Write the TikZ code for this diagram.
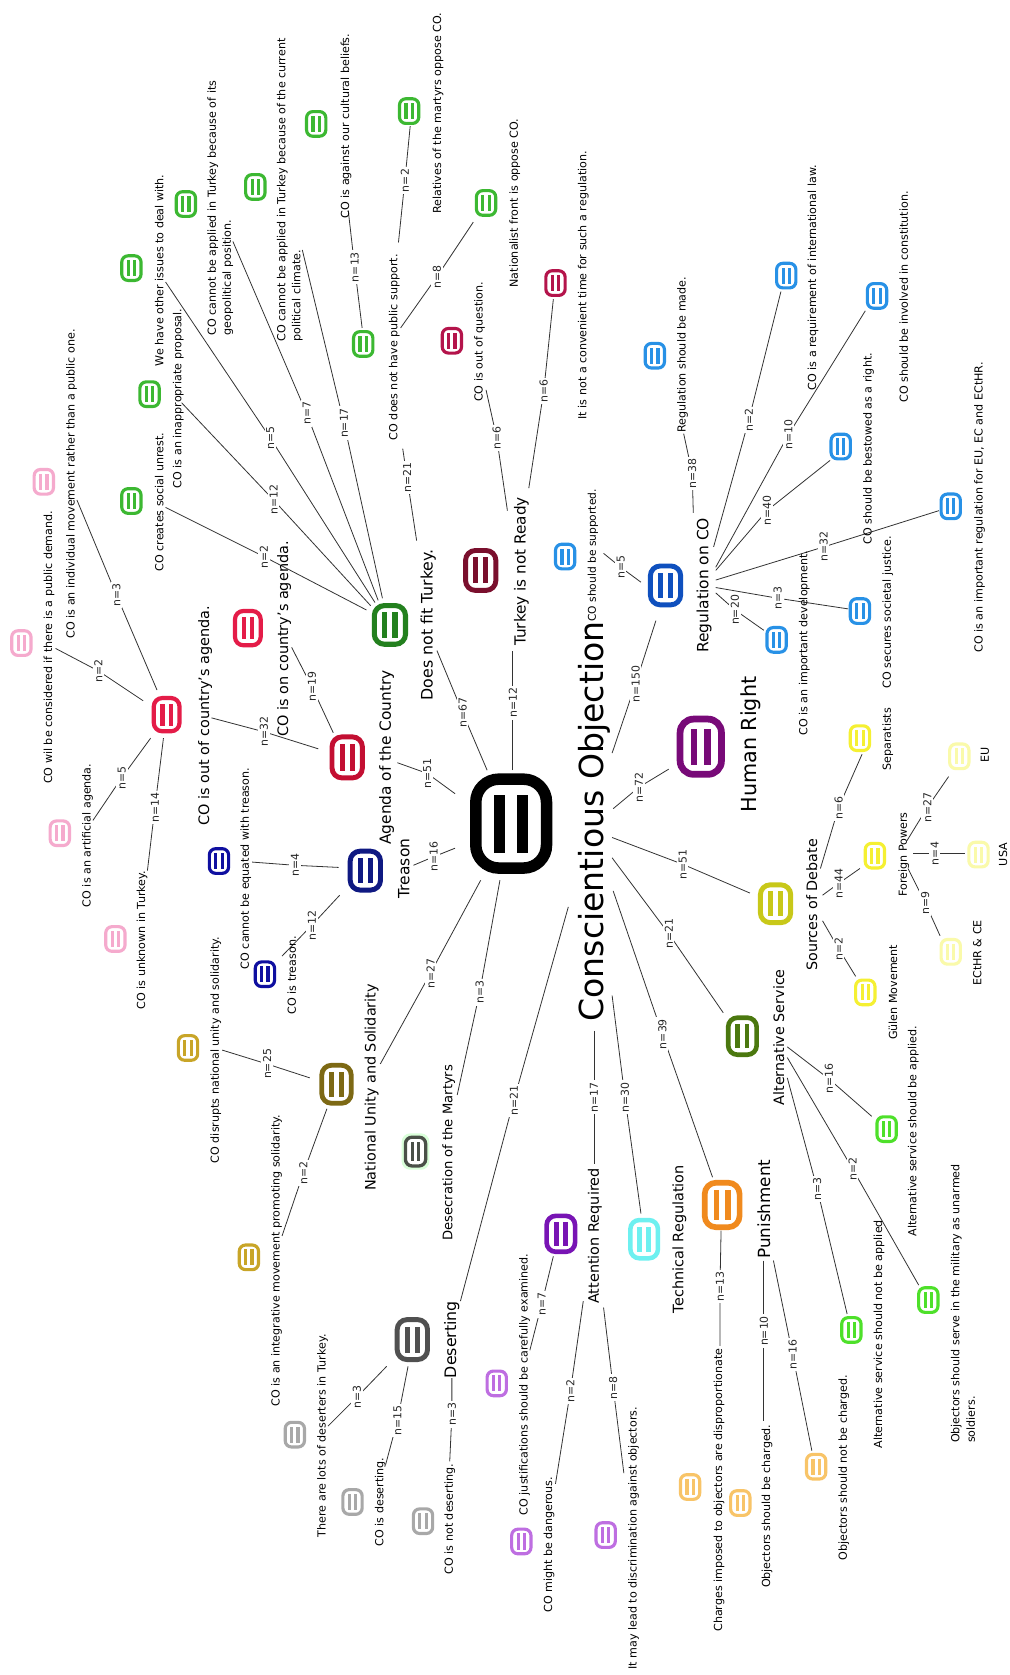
\documentclass[tikz,border=0pt]{standalone}
\usepackage{fontspec}
\setmainfont{DejaVu Sans}
\definecolor{cGreen}{RGB}{60,184,50}
\definecolor{cDkGreen}{RGB}{35,128,30}
\definecolor{cMaroon}{RGB}{122,15,45}
\definecolor{cMag}{RGB}{180,20,75}
\definecolor{cCrimson}{RGB}{195,15,50}
\definecolor{cRed}{RGB}{228,28,72}
\definecolor{cPink}{RGB}{245,170,205}
\definecolor{cNavy}{RGB}{15,25,130}
\definecolor{cNavyS}{RGB}{15,15,160}
\definecolor{cOlive}{RGB}{125,105,20}
\definecolor{cOliveS}{RGB}{200,165,40}
\definecolor{cDesec}{RGB}{74,80,72}
\definecolor{cDesert}{RGB}{80,80,80}
\definecolor{cGray}{RGB}{168,168,168}
\definecolor{cPurple}{RGB}{120,20,180}
\definecolor{cLPurple}{RGB}{190,110,225}
\definecolor{cCyan}{RGB}{110,240,240}
\definecolor{cOrange}{RGB}{240,138,30}
\definecolor{cLOrange}{RGB}{248,196,104}
\definecolor{cAltGreen}{RGB}{75,120,15}
\definecolor{cBGreen}{RGB}{78,224,42}
\definecolor{cSrc}{RGB}{200,200,25}
\definecolor{cYellow}{RGB}{245,240,50}
\definecolor{cPale}{RGB}{250,250,170}
\definecolor{cHuman}{RGB}{120,10,120}
\definecolor{cBlue}{RGB}{15,80,190}
\definecolor{cLBlue}{RGB}{40,145,230}
\tikzset{
  conn/.style={draw=black!80, line width=0.75pt},
  nlab/.style={rotate=90, fill=white, inner sep=1.6pt, font=\fontsize{10.2}{11}\selectfont, text=black!85},
  txs/.style={rotate=90, inner sep=0pt},
}
% icon: name, x, y, w, h, colour
\newcommand\myico[6]{%
  \pgfmathsetmacro\icT{0.14*#4}%
  \pgfmathsetmacro\icR{0.28*#4}%
  \draw[#6, line width=\icT pt, rounded corners=\icR pt] ({#2-#4/2+\icT/2},{#3-#5/2+\icT/2}) rectangle ({#2+#4/2-\icT/2},{#3+#5/2-\icT/2});
  \fill[#6] ({#2-0.21*#4},{#3-0.29*#5}) rectangle ({#2-0.07*#4},{#3+0.29*#5});
  \fill[#6] ({#2+0.07*#4},{#3-0.29*#5}) rectangle ({#2+0.21*#4},{#3+0.29*#5});
  \node[inner sep=0pt, minimum width=#4 pt, minimum height=#5 pt] (#1) at (#2,#3) {};
}
\newcommand\mysico[4]{\myico{#1}{#2}{#3}{21}{26}{#4}}
% edge: id, start x y, label x y, end x y, n
\newcommand\myedge[8]{%
  \coordinate (#1a) at (#2,#3);
  \coordinate (#1m) at (#4,#5);
  \coordinate (#1b) at (#6,#7);
  \draw[conn] (#1a) -- (#1m) -- (#1b);
  \node[nlab] (#1) at (#1m) {n=#8};
}
\newcommand\mytxt[5]{\node[txs, font=\fontsize{#4}{#4}\selectfont] (#1) at (#2,#3) {#5};}
\begin{document}
\begin{tikzpicture}[x=1pt,y=-1pt]
\fill[white] (0,0) rectangle (945,1568);
\useasboundingbox (0,0) rectangle (945,1568);

% ---------- connectors ----------
\myedge{e1}{426}{794}{406}{802}{387}{810}{16}
\myedge{e2}{426}{743}{400}{724}{372}{714}{51}
\myedge{e3}{456}{721}{433}{667}{409}{609}{67}
\myedge{e4}{480}{721}{480}{658}{480}{609}{12}
\myedge{e5}{573}{705}{595}{640}{614}{581}{150}
\myedge{e6}{574}{757}{598}{737}{626}{720}{72}
\myedge{e7}{573}{784}{639}{809}{702}{836}{51}
\myedge{e8}{573}{803}{626}{874}{677}{948}{21}
\myedge{e9}{574}{834}{620}{968}{667}{1102}{39}
\myedge{e10}{573}{932}{585}{1027}{600}{1136}{30}
\myedge{e11}{556}{965}{556}{1027}{556}{1090}{17}
\myedge{e12}{532}{849}{481}{1030}{431}{1218}{21}
\myedge{e13}{468}{824}{449}{929}{428}{1025}{3}
\myedge{e14}{450}{824}{403}{911}{356}{996}{27}
\myedge{e15}{390}{506}{381}{447}{377}{420}{21}
\myedge{e16}{358}{560}{322}{396}{283}{234}{17}
\myedge{e17}{354}{562}{287}{387}{218}{226}{7}
\myedge{e18}{351}{564}{253}{410}{155}{264}{5}
\myedge{e19}{347}{567}{256}{468}{170}{377}{12}
\myedge{e20}{343}{571}{247}{521}{155}{475}{2}
\myedge{e21}{339}{307}{332}{250}{326}{197}{13}
\myedge{e22}{375}{307}{409}{259}{443}{208}{8}
\myedge{e23}{373}{227}{379}{169}{384}{118}{2}
\myedge{e24}{475}{478}{465}{410}{455}{365}{6}
\myedge{e25}{495}{457}{509}{366}{518}{280}{6}
\myedge{e26}{565}{518}{581}{531}{600}{545}{5}
\myedge{e27}{649}{480}{648}{443}{640}{406}{38}
\myedge{e28}{668}{512}{701}{393}{731}{273}{2}
\myedge{e29}{670}{531}{738}{407}{810}{291}{10}
\myedge{e30}{670}{534}{718}{478}{777}{431}{40}
\myedge{e31}{670}{543}{771}{512}{879}{478}{32}
\myedge{e32}{670}{550}{728}{560}{794}{570}{3}
\myedge{e33}{670}{555}{688}{571}{715}{590}{20}
\myedge{e34}{312}{686}{292}{643}{273}{606}{19}
\myedge{e35}{298}{701}{247}{685}{198}{672}{32}
\myedge{e36}{147}{646}{109}{557}{72}{468}{3}
\myedge{e37}{134}{656}{92}{628}{52}{607}{2}
\myedge{e38}{141}{691}{114}{728}{87}{768}{5}
\myedge{e39}{153}{691}{145}{756}{138}{815}{14}
\myedge{e40}{317}{812}{276}{810}{236}{807}{4}
\myedge{e41}{318}{838}{292}{866}{264}{895}{12}
\myedge{e42}{290}{1009}{250}{996}{208}{983}{25}
\myedge{e43}{306}{1038}{284}{1098}{264}{1157}{2}
\myedge{e44}{362}{1279}{334}{1308}{307}{1335}{3}
\myedge{e45}{382}{1279}{372}{1330}{361}{1371}{15}
\myedge{e46}{423}{1290}{423}{1324}{421}{1368}{3}
\myedge{e47}{518}{1176}{507}{1221}{496}{1264}{7}
\myedge{e48}{546}{1218}{534}{1302}{520}{1389}{2}
\myedge{e49}{565}{1224}{574}{1299}{584}{1379}{8}
\myedge{e50}{675}{1152}{674}{1204}{674}{1260}{13}
\myedge{e51}{715}{1180}{715}{1246}{715}{1330}{10}
\myedge{e52}{724}{1180}{742}{1268}{760}{1358}{16}
\myedge{e53}{737}{980}{776}{1010}{816}{1045}{16}
\myedge{e54}{737}{990}{798}{1094}{860}{1203}{2}
\myedge{e55}{737}{1009}{765}{1113}{793}{1230}{3}
\myedge{e56}{768}{813}{785}{756}{807}{706}{6}
\myedge{e57}{770}{838}{785}{827}{805}{813}{44}
\myedge{e58}{770}{862}{785}{888}{801}{914}{2}
\myedge{e59}{849}{787}{868}{756}{888}{727}{27}
\myedge{e60}{855}{799}{875}{799}{903}{799}{4}
\myedge{e61}{850}{813}{866}{845}{880}{876}{9}

% ---------- icons ----------
\myico{co}{478.5}{771}{77}{94}{black}
\myico{dnft}{365}{585}{34}{41}{cDkGreen}
\myico{tnr}{450}{534}{33}{42}{cMaroon}
\myico{agenda}{325}{709}{33}{43}{cCrimson}
\myico{onag}{232}{588}{28}{36}{cRed}
\myico{outag}{156}{669}{28}{35}{cRed}
\myico{treason}{342}{815}{33}{41}{cNavy}
\myico{natu}{315}{1015}{32}{40}{cOlive}
\draw[green!15, line width=4pt, rounded corners=6pt] (378,1063) rectangle (400,1093);
\myico{desec}{389}{1078}{22}{30}{cDesec}
\myico{desert}{386}{1254}{33}{42}{cDesert}
\myico{attn}{525}{1155}{31}{38}{cPurple}
\myico{cyanic}{603}{1160}{30}{40}{cCyan}
\myico{techreg}{676}{1128}{38}{47}{cOrange}
\myico{alts}{695}{970}{31}{39}{cAltGreen}
\myico{src}{726}{846}{33}{40}{cSrc}
\myico{human}{656}{699}{45}{58}{cHuman}
\myico{reg}{623}{548}{33}{41}{cBlue}

\mysico{g1}{123}{251}{cGreen}
\mysico{g2}{174}{191}{cGreen}
\mysico{g3}{239}{175}{cGreen}
\mysico{g4}{296}{116}{cGreen}
\mysico{g5}{383}{104}{cGreen}
\mysico{g6}{455}{190}{cGreen}
\mysico{g7}{340}{322}{cGreen}
\mysico{g8}{140}{369}{cGreen}
\mysico{g9}{123}{469}{cGreen}
\mysico{p1}{20}{602}{cPink}
\mysico{p2}{41}{451}{cPink}
\mysico{p3}{56}{780}{cPink}
\mysico{p4}{108}{879}{cPink}
\mysico{n1}{205}{806}{cNavyS}
\mysico{n2}{248}{912}{cNavyS}
\mysico{o1}{176}{981}{cOliveS}
\mysico{o2}{233}{1177}{cOliveS}
\mysico{d1}{276}{1343}{cGray}
\mysico{d2}{330}{1406}{cGray}
\mysico{d3}{396}{1424}{cGray}
\mysico{a1}{465}{1295}{cLPurple}
\mysico{a2}{488}{1443}{cLPurple}
\mysico{a3}{567}{1437}{cLPurple}
\mysico{u1}{646}{1392}{cLOrange}
\mysico{u2}{693}{1407}{cLOrange}
\mysico{u3}{764}{1373}{cLOrange}
\mysico{s1}{830}{1057}{cBGreen}
\mysico{s2}{869}{1217}{cBGreen}
\mysico{s3}{797}{1245}{cBGreen}
\mysico{y1}{805}{691}{cYellow}
\mysico{y2}{819}{801}{cYellow}
\mysico{y3}{810}{929}{cYellow}
\mysico{w1}{898}{708}{cPale}
\mysico{w2}{916}{800}{cPale}
\mysico{w3}{890}{891}{cPale}
\mysico{m1}{423}{319}{cMag}
\mysico{m2}{520}{265}{cMag}
\mysico{b1}{529}{521}{cLBlue}
\mysico{b2}{613}{333}{cLBlue}
\mysico{b3}{736}{258}{cLBlue}
\mysico{b4}{821}{277}{cLBlue}
\mysico{b5}{787}{418}{cLBlue}
\mysico{b6}{890}{474}{cLBlue}
\mysico{b7}{805}{572}{cLBlue}
\mysico{b8}{727}{599}{cLBlue}

% ---------- main labels ----------
\mytxt{tco}{556}{769}{31}{Conscientious Objection}
\mytxt{tdnft}{401}{585}{14.8}{Does not fit Turkey.}
\mytxt{ttnr}{488}{535}{14.3}{Turkey is not Ready}
\mytxt{tag}{362}{709}{14.4}{Agenda of the Country}
\mytxt{ttr}{378}{813}{14.5}{Treason}
\mytxt{tnu}{348}{1018}{13.5}{National Unity and Solidarity}
\mytxt{tdes}{420}{1079}{12.3}{Desecration of the Martyrs}
\mytxt{tdst}{423}{1254}{14.8}{Deserting}
\mytxt{tatt}{557}{1157}{13.5}{Attention Required}
\mytxt{ttech}{636}{1160}{13.5}{Technical Regulation}
\mytxt{tpun}{715}{1132}{15.7}{Punishment}
\mytxt{talt}{729}{971}{13.4}{Alternative Service}
\mytxt{tsrc}{760}{847}{13.4}{Sources of Debate}
\mytxt{thum}{703}{697}{19.4}{Human Right}
\mytxt{treg}{659}{548}{14.5}{Regulation on CO}
\mytxt{ton}{266}{598}{13.5}{CO is on country's agenda.}
\mytxt{tout}{192}{670}{13.5}{CO is out of country's agenda.}

% ---------- leaf labels ----------
\def\sz{10.4}
\mytxt{l1}{369}{325}{\sz}{CO does not have public support.}
\mytxt{l2}{324}{118}{\sz}{CO is against our cultural beliefs.}
\mytxt{l3}{482}{190}{\sz}{Nationalist front is oppose CO.}
\mytxt{l4}{410}{106}{\sz}{Relatives of the martyrs oppose CO.}
\mytxt{l5}{149}{253}{\sz}{We have other issues to deal with.}
\node[txs, align=left, anchor=north west, font=\fontsize{\sz}{14}\selectfont] (l6) at (194,314) {CO cannot be applied in Turkey because of its\\geopolitical position.};
\node[txs, align=left, anchor=north west, font=\fontsize{\sz}{14}\selectfont] (l7) at (259,320) {CO cannot be applied in Turkey because of the current\\political climate.};
\mytxt{l8}{167}{373}{\sz}{CO is an inappropriate proposal.}
\mytxt{l9}{149}{470}{\sz}{CO creates social unrest.}
\mytxt{l10}{67}{453}{\sz}{CO is an individual movement rather than a public one.}
\mytxt{l11}{46}{606}{\sz}{CO wil be considered if there is a public demand.}
\mytxt{l12}{82}{782}{\sz}{CO is an artificial agenda.}
\mytxt{l13}{133}{880}{\sz}{CO is unknown in Turkey.}
\mytxt{l14}{230}{813}{\sz}{CO cannot be equated with treason.}
\mytxt{l15}{273}{913}{\sz}{CO is treason.}
\mytxt{l16}{202}{983}{\sz}{CO disrupts national unity and solidarity.}
\mytxt{l17}{259}{1180}{\sz}{CO is an integrative movement promoting solidarity.}
\mytxt{l18}{302}{1344}{\sz}{There are lots of deserters in Turkey.}
\mytxt{l19}{356}{1406}{\sz}{CO is deserting.}
\mytxt{l20}{421}{1422}{\sz}{CO is not deserting.}
\mytxt{l21}{491}{1296}{\sz}{CO justifications should be carefully examined.}
\mytxt{l22}{514}{1446}{\sz}{CO might be dangerous.}
\mytxt{l23}{593}{1440}{\sz}{It may lead to discrimination against objectors.}
\mytxt{l24}{673}{1395}{\sz}{Charges imposed to objectors are disproportionate}
\mytxt{l25}{718}{1410}{\sz}{Objectors should be charged.}
\mytxt{l26}{790}{1374}{\sz}{Objectors should not be charged.}
\mytxt{l27}{823}{1249}{\sz}{Alternative service should not be applied}
\mytxt{l28}{855}{1059}{\sz}{Alternative service should be applied.}
\node[txs, align=left, anchor=north west, font=\fontsize{\sz}{14.5}\selectfont] (l29) at (890,1351) {Objectors should serve in the military as unarmed\\soldiers.};
\mytxt{l30}{836}{929}{\sz}{Gülen Movement}
\mytxt{l31}{846}{800}{\sz}{Foreign Powers}
\mytxt{l32}{915}{892}{\sz}{ECtHR \& CE}
\mytxt{l33}{939}{800}{\sz}{USA}
\mytxt{l34}{922}{707}{\sz}{EU}
\mytxt{l35}{831}{692}{\sz}{Separatists}
\mytxt{l36}{831}{573}{\sz}{CO secures societal justice.}
\mytxt{l37}{753}{602}{\sz}{CO is an important development.}
\mytxt{l38}{917}{475}{\sz}{CO is an important regulation for EU, EC and ECtHR.}
\mytxt{l39}{813}{420}{\sz}{CO should be bestowed as a right.}
\mytxt{l40}{846}{278}{\sz}{CO should be involved in constitution.}
\mytxt{l41}{761}{260}{\sz}{CO is a requirement of international law.}
\mytxt{l42}{639}{332}{\sz}{Regulation should be made.}
\mytxt{l43}{555}{520}{10}{CO should be supported.}
\mytxt{l44}{546}{267}{\sz}{It is not a convenient time for such a regulation.}
\mytxt{l45}{449}{320}{\sz}{CO is out of question.}
\end{tikzpicture}
\end{document}
